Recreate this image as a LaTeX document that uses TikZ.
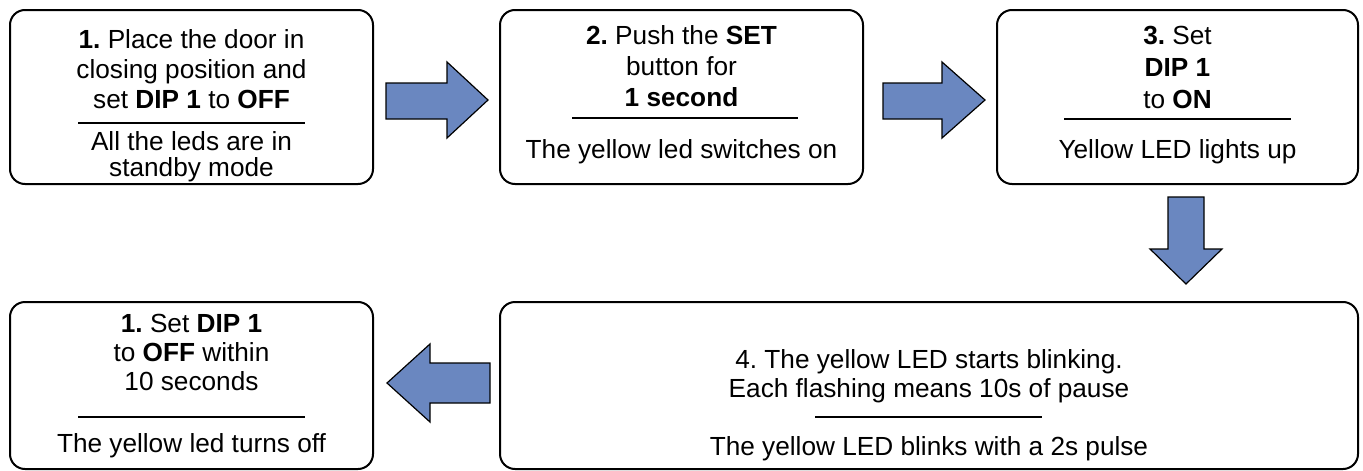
\documentclass[tikz,border=0pt]{standalone}
\usepackage{fontspec}
\setmainfont{Liberation Sans}
\frenchspacing
\definecolor{arrowblue}{RGB}{106,135,192}
\begin{document}
\begin{tikzpicture}[x=1pt,y=-1pt,
  box/.style={draw=black, line width=2pt, rounded corners=15pt, inner sep=0pt, outer sep=0pt},
  txt/.style={font=\fontsize{26.2}{30}\selectfont, anchor=base, inner sep=0pt},
  seprule/.style={draw=black, line width=1.5pt},
  blockarrow/.style={draw=black, line width=1.2pt, fill=arrowblue, line join=miter}]
\useasboundingbox (0,0) rectangle (1363,471);
% boxes
\node[box, minimum width=363pt, minimum height=174pt] (b1) at (191.5,97) {};
\node[box, minimum width=363pt, minimum height=174pt] (b2) at (681.5,97) {};
\node[box, minimum width=361pt, minimum height=174pt] (b3) at (1177.5,97) {};
\node[box, minimum width=858pt, minimum height=167pt] (b4) at (929,385.5) {};
\node[box, minimum width=363pt, minimum height=167pt] (b5) at (191.5,385.5) {};
% box 1 text
\node[txt] (t11) at (191.5,48) {\textbf{1.} Place the door in};
\node[txt] (t12) at (191.5,78) {closing position and};
\node[txt] (t13) at (191.5,108) {set \textbf{DIP 1} to \textbf{OFF}};
\node[txt] (t14) at (191.5,150) {All the leds are in};
\node[txt] (t15) at (191.5,176) {standby mode};
\draw[seprule] (78,123) -- (305,123);
% box 2 text
\node[txt] (t21) at (681.5,44) {\textbf{2.} Push the \textbf{SET}};
\node[txt] (t22) at (681.5,75) {button for};
\node[txt] (t23) at (681.5,106) {\textbf{1 second}};
\node[txt] (t24) at (681.5,158) {The yellow led switches on};
\draw[seprule] (572,118) -- (798,118);
% box 3 text
\node[txt] (t31) at (1177.5,44) {\textbf{3.} Set};
\node[txt] (t32) at (1177.5,76) {\textbf{DIP 1}};
\node[txt] (t33) at (1177.5,108) {to \textbf{ON}};
\node[txt] (t34) at (1177.5,158) {Yellow LED lights up};
\draw[seprule] (1064,119) -- (1291,119);
% box 4 text
\node[txt] (t41) at (929,368) {4. The yellow LED starts blinking.};
\node[txt] (t42) at (929,397) {Each flashing means 10s of pause};
\node[txt] (t43) at (929,455) {The yellow LED blinks with a 2s pulse};
\draw[seprule] (815,417) -- (1042,417);
% box 5 text
\node[txt] (t51) at (191.5,332) {\textbf{1.} Set \textbf{DIP 1}};
\node[txt] (t52) at (191.5,361) {to \textbf{OFF} within};
\node[txt] (t53) at (191.5,390) {10 seconds};
\node[txt] (t54) at (191.5,452) {The yellow led turns off};
\draw[seprule] (78,417) -- (305,417);
% block arrows
\draw[blockarrow] (386,83) -- (447,83) -- (447,62) -- (488,100) -- (447,138) -- (447,119) -- (386,119) -- cycle;
\draw[blockarrow] (883,83) -- (942,83) -- (942,62) -- (985,100) -- (942,138) -- (942,119) -- (883,119) -- cycle;
\draw[blockarrow] (1168,197) -- (1204,197) -- (1204,249) -- (1222,249) -- (1186,284) -- (1150,249) -- (1168,249) -- cycle;
\draw[blockarrow] (490,363) -- (430,363) -- (430,344) -- (387,383) -- (430,422) -- (430,403) -- (490,403) -- cycle;
\end{tikzpicture}
\end{document}
